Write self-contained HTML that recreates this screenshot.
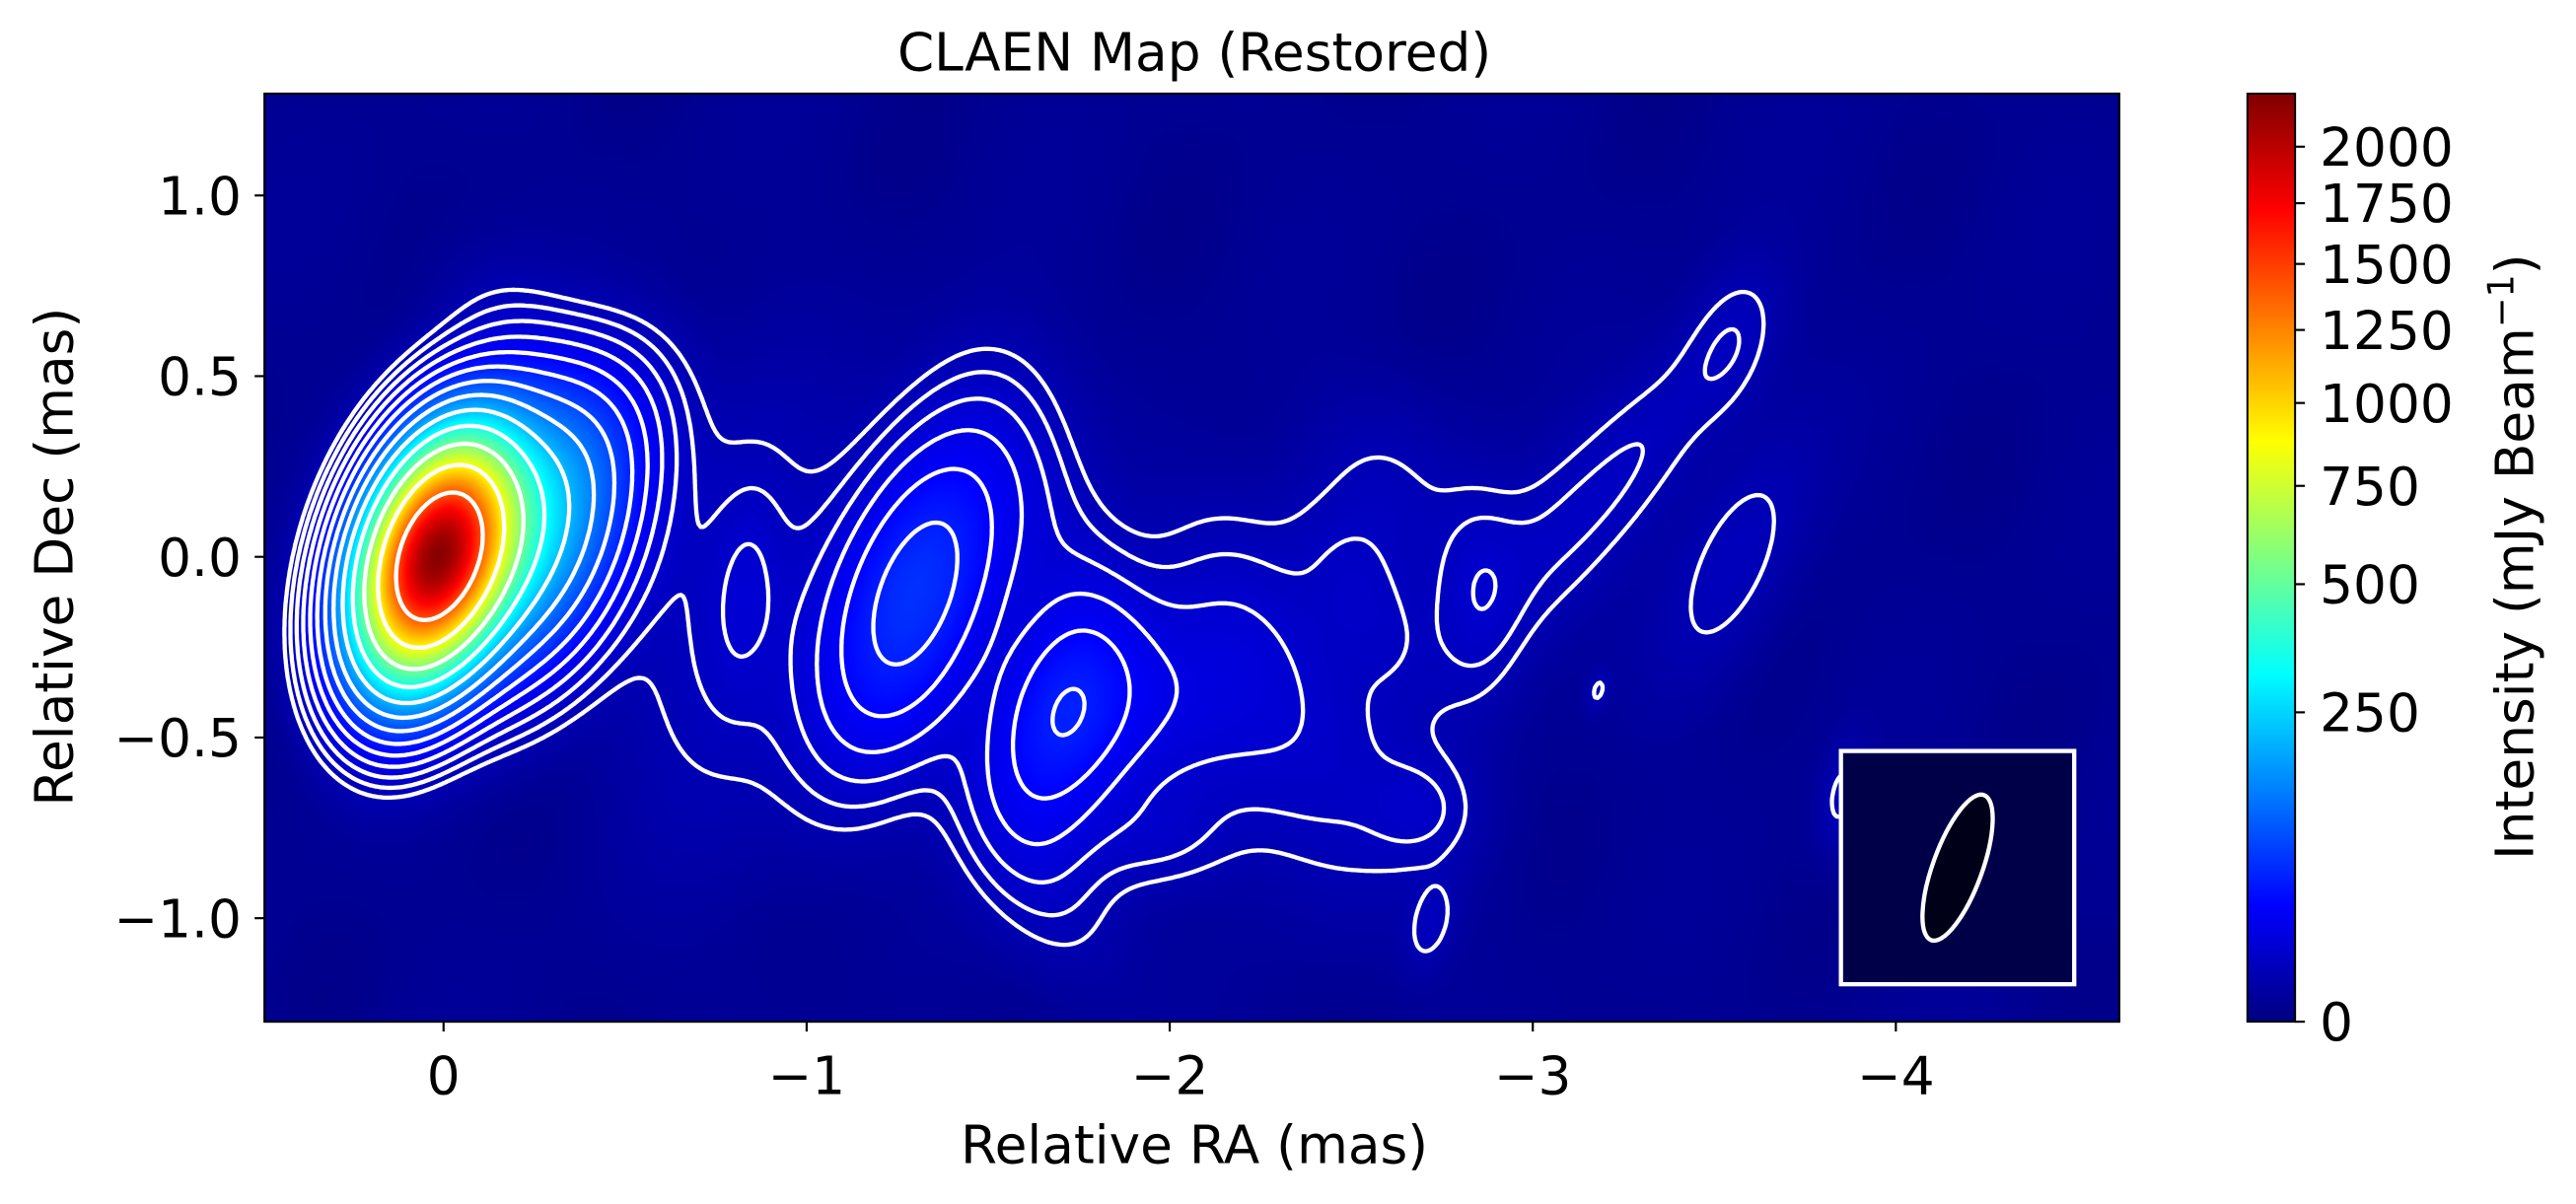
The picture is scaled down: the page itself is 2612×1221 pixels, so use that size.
<!DOCTYPE html>
<html><head><meta charset="utf-8"><style>
html,body{margin:0;padding:0;background:#fff}
#wrap{position:relative;width:2612px;height:1221px;overflow:hidden;background:#fff}
#heat{position:absolute;left:268.2px;top:94.95px;width:1880.7px;height:941.2px}
#ov{position:absolute;left:0;top:0}
text{font-family:"DejaVu Sans","Liberation Sans",sans-serif;fill:#000}
</style></head><body>
<div id="wrap">
<canvas id="heat" width="1129" height="565"></canvas>
<svg id="ov" width="2612" height="1221" viewBox="0 0 1568 733" preserveAspectRatio="none">
<defs><linearGradient id="cbg" x1="0" y1="1" x2="0" y2="0"></linearGradient></defs>
<g id="contours"></g>
<g id="beambox"></g>
<rect x="161" y="57" width="1129" height="565" fill="none" stroke="#000" stroke-width="1.3"/>
<text x="727" y="43" font-size="32" text-anchor="middle">CLAEN Map (Restored)</text>
<g id="xticks"></g>
<g id="yticks"></g>
<text x="727" y="708" font-size="32" text-anchor="middle">Relative RA (mas)</text>
<text transform="translate(44,339) rotate(-90)" font-size="32" text-anchor="middle">Relative Dec (mas)</text>
<rect x="1368" y="57" width="29" height="565" fill="url(#cbg)" stroke="#000" stroke-width="1.2"/>
<g id="cticks"></g>
<text transform="translate(1542,339) rotate(-90)" font-size="32" text-anchor="middle">Intensity (mJy Beam<tspan dy="-12" font-size="22">−1</tspan><tspan dy="12">)</tspan></text>
</svg>
</div>
<script>
// ---- data ----
const xTickValues = [0, -1, -2, -3, -4];
const xTickLabels = ["0", "−1", "−2", "−3", "−4"];
const yTickValues = [1.0, 0.5, 0.0, -0.5, -1.0];
const yTickLabels = ["1.0", "0.5", "0.0", "−0.5", "−1.0"];
const cbTickValues = [0, 250, 500, 750, 1000, 1250, 1500, 1750, 2000];
const cbTickLabels = ["0", "250", "500", "750", "1000", "1250", "1500", "1750", "2000"];
const contourLevels = [5, 8, 12.8, 20.5, 32.8, 52, 84, 134, 215, 344, 550, 880, 1407];
// gaussian components: RA (mas), Dec (mas), peak (mJy/beam), sigma major, sigma minor (mas), PA (deg)
const compRA   = [0.02, -0.2, -0.35, -0.25, 0.12, -0.8, -0.83, -1.3, -1.7, -1.95, -1.7, -2.2, -2.55, -2.85, -1.6, -1.95, -2.4, -2.7, -3.0, -3.3, -3.55, -2.6, -3.55, -2.72, -3.18, -3.85];
const compDec  = [0.0, 0.05, 0.25, 0.5, -0.3, -0.15, -0.1, -0.1, -0.45, -0.4, 0.0, -0.15, -0.15, -0.1, -0.8, -0.78, -0.55, -0.7, 0.0, 0.3, 0.6, 0.15, -0.02, -1.02, -0.37, -0.66];
const compPeak = [2100, 250, 40, 8, 25, 9, 6, 65, 45, 15, 8, 7, 6, 7, 10, 7, 9, 6, 7, 6.5, 6.5, 6, 7, 6, 5.5, 6];
const compSMaj = [0.19, 0.22, 0.2, 0.12, 0.16, 0.4, 0.18, 0.3, 0.2, 0.2, 0.12, 0.15, 0.1, 0.2, 0.12, 0.1, 0.2, 0.1, 0.25, 0.25, 0.15, 0.15, 0.25, 0.08, 0.04, 0.1];
const compSMin = [0.11, 0.15, 0.13, 0.2, 0.1, 0.18, 0.06, 0.14, 0.12, 0.2, 0.3, 0.25, 0.2, 0.08, 0.25, 0.15, 0.3, 0.1, 0.12, 0.1, 0.08, 0.2, 0.1, 0.04, 0.02, 0.04];
const compPA   = [18, 20, 30, 60, 10, 10, 5, 20, 15, 0, 70, 70, 60, 0, 60, 0, 60, 0, 35, 35, 20, 70, 25, 15, 15, 10];
const vmax = 2250, gammaNorm = 0.5;
const beamRA = -4.17, beamDec = -0.86, beamMajPx = 47, beamMinPx = 15, beamPA = 20;

// ---- axes ----
const X0 = 270, XS = 221, Y0 = 339, YS = 220, PL = 161, PT = 57, PW = 1129, PH = 565;
const xpx = ra => X0 - ra * XS;
const ypx = dec => Y0 - dec * YS;
const pxRA = px => (X0 - px) / XS;
const pxDec = py => (Y0 - py) / YS;
const norm = v => Math.pow(Math.max(v, 0) / vmax, gammaNorm);
const cbY = v => 622 - norm(v) * 565;
const NS = "http://www.w3.org/2000/svg";
function jet(f) {
  f = Math.min(1, Math.max(0, f));
  const c = t => Math.min(1, Math.max(0, t));
  return [c(1.5 - Math.abs(4 * f - 3)), c(1.5 - Math.abs(4 * f - 2)), c(1.5 - Math.abs(4 * f - 1))];
}
function field(ra, dec) {
  let s = 0;
  for (let i = 0; i < compRA.length; i++) {
    const u = -(ra - compRA[i]), v = dec - compDec[i];
    const t = compPA[i] * Math.PI / 180;
    const a = u * Math.sin(t) + v * Math.cos(t), b = u * Math.cos(t) - v * Math.sin(t);
    s += compPeak[i] * Math.exp(-0.5 * (a * a / (compSMaj[i] * compSMaj[i]) + b * b / (compSMin[i] * compSMin[i])));
  }
  return s;
}
// ---- heatmap ----
const cv = document.getElementById('heat'), ctx = cv.getContext('2d');
const img = ctx.createImageData(PW, PH);
for (let j = 0; j < PH; j++) {
  for (let i = 0; i < PW; i++) {
    const px = PL + i + 0.5, py = PT + j + 0.5;
    const bg = 0.8 + 0.6 * Math.sin(px * 0.035 + py * 0.012) * Math.sin(py * 0.02 - px * 0.006);
    const v = field(pxRA(px), pxDec(py)) + bg;
    const c = jet(norm(v));
    const k = (j * PW + i) * 4;
    img.data[k] = c[0] * 255; img.data[k + 1] = c[1] * 255; img.data[k + 2] = c[2] * 255; img.data[k + 3] = 255;
  }
}
ctx.putImageData(img, 0, 0);

// ---- contours (marching squares) ----
const step = 1.5;
const nx = Math.floor(PW / step) + 1, ny = Math.floor(PH / step) + 1;
const G = new Float32Array(nx * ny);
for (let j = 0; j < ny; j++) for (let i = 0; i < nx; i++) G[j * nx + i] = field(pxRA(PL + i * step), pxDec(PT + j * step));
const cg = document.getElementById('contours');
contourLevels.forEach((L, li) => {
  let d = [];
  const P = (x, y) => (PL + x * step).toFixed(1) + ' ' + (PT + y * step).toFixed(1);
  for (let j = 0; j < ny - 1; j++) for (let i = 0; i < nx - 1; i++) {
    const a = G[j * nx + i], b = G[j * nx + i + 1], c = G[(j + 1) * nx + i + 1], e = G[(j + 1) * nx + i];
    const idx = (a > L ? 8 : 0) | (b > L ? 4 : 0) | (c > L ? 2 : 0) | (e > L ? 1 : 0);
    if (idx === 0 || idx === 15) continue;
    const T = () => P(i + (L - a) / (b - a), j), R = () => P(i + 1, j + (L - b) / (c - b));
    const B = () => P(i + (L - e) / (c - e), j + 1), Lf = () => P(i, j + (L - a) / (e - a));
    const seg = (p, q) => d.push('M' + p + 'L' + q);
    switch (idx) {
      case 1: case 14: seg(Lf(), B()); break;
      case 2: case 13: seg(B(), R()); break;
      case 3: case 12: seg(Lf(), R()); break;
      case 4: case 11: seg(T(), R()); break;
      case 5: seg(Lf(), T()); seg(B(), R()); break;
      case 6: case 9: seg(T(), B()); break;
      case 7: case 8: seg(Lf(), T()); break;
      case 10: seg(T(), R()); seg(Lf(), B()); break;
    }
  }
  const p = document.createElementNS(NS, 'path');
  p.setAttribute('d', d.join(''));
  p.setAttribute('fill', 'none'); p.setAttribute('stroke', '#fff');
  p.setAttribute('stroke-width', '2.6'); p.setAttribute('stroke-linecap', 'round');
  
  
  cg.appendChild(p);
});

// ---- beam box ----
const bb = document.getElementById('beambox');
const bx = xpx(beamRA), by = ypx(beamDec);
const br = document.createElementNS(NS, 'rect');
br.setAttribute('x', bx - 71); br.setAttribute('y', by - 71); br.setAttribute('width', 142); br.setAttribute('height', 142);
br.setAttribute('fill', '#000048'); br.setAttribute('stroke', '#fff'); br.setAttribute('stroke-width', '2.6');


bb.appendChild(br);
const be = document.createElementNS(NS, 'ellipse');
be.setAttribute('cx', bx); be.setAttribute('cy', by); be.setAttribute('rx', beamMinPx); be.setAttribute('ry', beamMajPx);
be.setAttribute('transform', 'rotate(' + beamPA + ' ' + bx + ' ' + by + ')');
be.setAttribute('fill', '#000018'); be.setAttribute('stroke', '#fff'); be.setAttribute('stroke-width', '2.6');


bb.appendChild(be);

// ---- ticks ----
function mk(tag, attrs, parent, text) {
  const e = document.createElementNS(NS, tag);
  for (const k in attrs) e.setAttribute(k, attrs[k]);
  if (text !== undefined) e.textContent = text;
  parent.appendChild(e); return e;
}
const xg = document.getElementById('xticks');
xTickValues.forEach((v, i) => {
  const x = xpx(v);
  const l = mk('line', { x1: x, y1: 622, x2: x, y2: 628, stroke: '#000', 'stroke-width': 1.3 }, xg);
  
  
  const t = mk('text', { x: x, y: 666, 'font-size': 32, 'text-anchor': 'middle' }, xg, xTickLabels[i]);
  
  
});
const yg = document.getElementById('yticks');
yTickValues.forEach((v, i) => {
  const y = ypx(v);
  const l = mk('line', { x1: 155, y1: y, x2: 161, y2: y, stroke: '#000', 'stroke-width': 1.3 }, yg);
  
  
  const t = mk('text', { x: 147, y: y + 11.5, 'font-size': 32, 'text-anchor': 'end' }, yg, yTickLabels[i]);
  
  
});
const grad = document.getElementById('cbg');
for (let k = 0; k <= 40; k++) {
  const f = k / 40, c = jet(f);
  mk('stop', { offset: f, 'stop-color': 'rgb(' + c.map(z => Math.round(z * 255)).join(',') + ')' }, grad);
}
const cg2 = document.getElementById('cticks');
cbTickValues.forEach((v, i) => {
  const y = cbY(v);
  const l = mk('line', { x1: 1397, y1: y, x2: 1403, y2: y, stroke: '#000', 'stroke-width': 1.3 }, cg2);
  
  
  const t = mk('text', { x: 1412, y: y + 11.5, 'font-size': 32 }, cg2, cbTickLabels[i]);
  
  
});
</script>
</body></html>
